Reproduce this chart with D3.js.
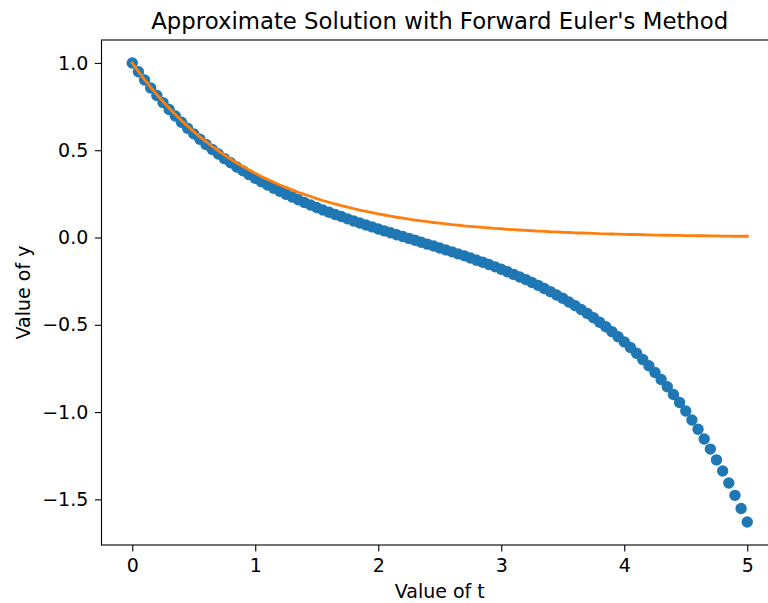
<!DOCTYPE html>
<html>
<head>
<meta charset="utf-8">
<script src="https://cdn.jsdelivr.net/npm/d3@7"></script>
<style>
  html, body { margin: 0; padding: 0; background: #fff; overflow: hidden; }
  svg { display: block; }
  text { font-family: "DejaVu Sans", sans-serif; fill: #000; }
</style>
</head>
<body>
<script>
// ---- data ----
const tValues = d3.range(0, 101).map(i => +(i * 0.05).toFixed(2)); // t = 0, 0.05, ..., 5
const eulerY = [
  1.000, 0.950, 0.902, 0.857, 0.814, 0.773, 0.733, 0.696, 0.660, 0.626,
  0.594, 0.563, 0.533, 0.505, 0.478, 0.452, 0.428, 0.404, 0.382, 0.360,
  0.339, 0.320, 0.301, 0.282, 0.265, 0.248, 0.232, 0.216, 0.201, 0.186,
  0.172, 0.158, 0.145, 0.132, 0.120, 0.107, 0.095, 0.083, 0.072, 0.061,
  0.049, 0.038, 0.027, 0.016, 0.006, -0.005, -0.016, -0.027, -0.038, -0.049,
  -0.060, -0.071, -0.082, -0.094, -0.105, -0.117, -0.130, -0.142, -0.155, -0.168,
  -0.182, -0.196, -0.211, -0.226, -0.241, -0.258, -0.274, -0.292, -0.310, -0.329,
  -0.348, -0.369, -0.390, -0.412, -0.435, -0.460, -0.485, -0.511, -0.539, -0.568,
  -0.598, -0.630, -0.663, -0.698, -0.735, -0.773, -0.813, -0.855, -0.899, -0.945,
  -0.994, -1.045, -1.098, -1.154, -1.212, -1.274, -1.338, -1.406, -1.477, -1.552,
  -1.630
];
const exactY = [
  1.000, 0.951, 0.905, 0.861, 0.819, 0.779, 0.741, 0.705, 0.670, 0.638,
  0.607, 0.577, 0.549, 0.522, 0.497, 0.472, 0.449, 0.427, 0.407, 0.387,
  0.368, 0.350, 0.333, 0.317, 0.301, 0.287, 0.273, 0.259, 0.247, 0.235,
  0.223, 0.212, 0.202, 0.192, 0.183, 0.174, 0.165, 0.157, 0.150, 0.142,
  0.135, 0.129, 0.122, 0.116, 0.111, 0.105, 0.100, 0.095, 0.091, 0.086,
  0.082, 0.078, 0.074, 0.071, 0.067, 0.064, 0.061, 0.058, 0.055, 0.052,
  0.050, 0.047, 0.045, 0.043, 0.041, 0.039, 0.037, 0.035, 0.033, 0.032,
  0.030, 0.029, 0.027, 0.026, 0.025, 0.024, 0.022, 0.021, 0.020, 0.019,
  0.018, 0.017, 0.017, 0.016, 0.015, 0.014, 0.014, 0.013, 0.012, 0.012,
  0.011, 0.011, 0.010, 0.010, 0.009, 0.009, 0.008, 0.008, 0.007, 0.007,
  0.007
];
const xTicks = [0, 1, 2, 3, 4, 5];
const yTicks = [1.0, 0.5, 0.0, -0.5, -1.0, -1.5];
const titleText = "Approximate Solution with Forward Euler's Method";
const xLabelText = "Value of t";
const yLabelText = "Value of y";

// ---- layout ----
const W = 768, H = 603;
const axLeft = 101.5, axRight = 778, axTop = 40, axBottom = 545;

const svg = d3.select("body").append("svg").attr("width", W).attr("height", H);

const allY = eulerY.concat(exactY);
const yMin = d3.min(allY), yMax = d3.max(allY);
const yPad = (yMax - yMin) * 0.05;
const xPad = (5 - 0) * 0.05;

const x = d3.scaleLinear().domain([0 - xPad, 5 + xPad]).range([axLeft, axRight]);
const y = d3.scaleLinear().domain([yMin - yPad, yMax + yPad]).range([axBottom, axTop]);

const blue = "#1f77b4", orange = "#ff7f0e";

// scatter
svg.append("g").selectAll("circle")
  .data(tValues.map((t, i) => [t, eulerY[i]]))
  .join("circle")
  .attr("cx", d => x(d[0]))
  .attr("cy", d => y(d[1]))
  .attr("r", 5.7)
  .attr("fill", blue);

// exact line
svg.append("path")
  .datum(tValues.map((t, i) => [t, exactY[i]]))
  .attr("fill", "none")
  .attr("stroke", orange)
  .attr("stroke-width", 2.85)
  .attr("stroke-linejoin", "round")
  .attr("stroke-linecap", "square")
  .attr("d", d3.line().x(d => x(d[0])).y(d => y(d[1])));

// axes
const fmtY = d3.format(".1f");
const xAxis = d3.axisBottom(x).tickValues(xTicks).tickFormat(d3.format("d"))
  .tickSizeInner(6.6).tickSizeOuter(0).tickPadding(6.6);
const yAxis = d3.axisLeft(y).tickValues(yTicks).tickFormat(fmtY)
  .tickSizeInner(6.6).tickSizeOuter(0).tickPadding(6.6);

const gx = svg.append("g").attr("transform", `translate(0,${axBottom})`).call(xAxis);
const gy = svg.append("g").attr("transform", `translate(${axLeft},0)`).call(yAxis);
[gx, gy].forEach(g => {
  g.select(".domain").remove();
  g.selectAll(".tick line").attr("stroke", "#000").attr("stroke-width", 1.1);
  g.selectAll(".tick text").attr("font-size", 19).attr("font-family", "DejaVu Sans").attr("fill", "#000");
});

// spines
svg.append("rect")
  .attr("x", axLeft).attr("y", axTop)
  .attr("width", axRight - axLeft).attr("height", axBottom - axTop)
  .attr("fill", "none").attr("stroke", "#000").attr("stroke-width", 1.1);

// title & labels
svg.append("text")
  .attr("x", (axLeft + axRight) / 2).attr("y", 28.5)
  .attr("text-anchor", "middle").attr("font-size", 22.8)
  .text(titleText);

svg.append("text")
  .attr("x", (axLeft + axRight) / 2).attr("y", 598)
  .attr("text-anchor", "middle").attr("font-size", 19)
  .text(xLabelText);

svg.append("text")
  .attr("transform", `translate(30,${(axTop + axBottom) / 2}) rotate(-90)`)
  .attr("text-anchor", "middle").attr("font-size", 19)
  .text(yLabelText);
</script>
</body>
</html>
